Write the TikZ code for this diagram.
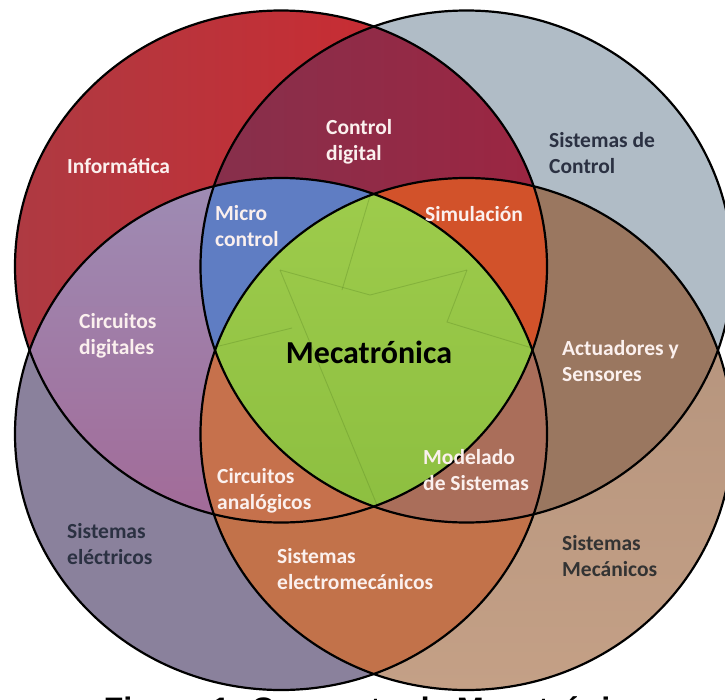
\documentclass[tikz,border=0pt]{standalone}
\usepackage{fontspec}
\setmainfont{Carlito}
\newfontfamily\piefont{Liberation Sans}
\usepackage{xcolor}
\usepackage{tikz}

\definecolor{rojoA}{HTML}{AE3A42}
\definecolor{rojoB}{HTML}{D4262C}
\definecolor{carmesiA}{HTML}{86304C}
\definecolor{carmesiB}{HTML}{A8203C}
\definecolor{grisazul}{HTML}{B0BCC6}
\definecolor{lilaA}{HTML}{9E8CB4}
\definecolor{lilaB}{HTML}{A45A8A}
\definecolor{grismorado}{HTML}{8A819C}
\definecolor{tanA}{HTML}{B0907A}
\definecolor{tanB}{HTML}{C4A086}
\definecolor{marron}{HTML}{9A7760}
\definecolor{naranja}{HTML}{C2724A}
\definecolor{azul}{HTML}{5F7DC3}
\definecolor{rojonaranja}{HTML}{D2522A}
\definecolor{salmon}{HTML}{C6714C}
\definecolor{cafe}{HTML}{AA6E5A}
\definecolor{verdeA}{HTML}{9ECC4C}
\definecolor{verdeB}{HTML}{84B83A}
\definecolor{verdeosc}{HTML}{5E8A26}
\definecolor{textoclaro}{HTML}{FBF0EE}
\definecolor{textooscuro}{HTML}{2B3142}

\begin{document}
\begin{tikzpicture}[
      x=1pt, y=-1pt,
      anillo/.style={x radius=266pt, y radius=256pt},
      borde/.style={draw=black, line width=2.2pt},
      etiqueta/.style={align=left, anchor=west, inner sep=0pt, text=textoclaro, font=\fontsize{21.5}{25.5}\selectfont\bfseries},
      oscura/.style={etiqueta, text=textooscuro},
      faceta/.style={draw=verdeosc, line width=0.9pt, opacity=0.35}
  ]
      \useasboundingbox (0,0) rectangle (725,699);
      \clip (0,0) rectangle (725,699);
      \fill[white] (0,0) rectangle (725,699);

      % Centros de los cuatro circulos
      \coordinate (inf) at (281,266.5);
      \coordinate (ctl) at (466.5,266.5);
      \coordinate (ele) at (281,434);
      \coordinate (mec) at (466.5,434);

      % Areas simples
      \shade[left color=rojoA, right color=rojoB] (inf) ellipse [anillo];
      \fill[grisazul] (ctl) ellipse [anillo];
      \fill[grismorado] (ele) ellipse [anillo];
      \shade[top color=tanA, bottom color=tanB] (mec) ellipse [anillo];

      % Areas dobles
      \begin{scope}
          \clip (inf) ellipse [anillo];
          \shade[left color=carmesiA, right color=carmesiB] (ctl) ellipse [anillo];
      \end{scope}
      \begin{scope}
          \clip (inf) ellipse [anillo];
          \shade[top color=lilaA, bottom color=lilaB] (ele) ellipse [anillo];
      \end{scope}
      \begin{scope}
          \clip (ctl) ellipse [anillo];
          \fill[marron] (mec) ellipse [anillo];
      \end{scope}
      \begin{scope}
          \clip (ele) ellipse [anillo];
          \fill[naranja] (mec) ellipse [anillo];
      \end{scope}

      % Areas triples
      \begin{scope}
          \clip (inf) ellipse [anillo];
          \clip (ctl) ellipse [anillo];
          \fill[azul] (ele) ellipse [anillo];
      \end{scope}
      \begin{scope}
          \clip (inf) ellipse [anillo];
          \clip (ctl) ellipse [anillo];
          \fill[rojonaranja] (mec) ellipse [anillo];
      \end{scope}
      \begin{scope}
          \clip (inf) ellipse [anillo];
          \clip (ele) ellipse [anillo];
          \fill[salmon] (mec) ellipse [anillo];
      \end{scope}
      \begin{scope}
          \clip (ctl) ellipse [anillo];
          \clip (ele) ellipse [anillo];
          \fill[cafe] (mec) ellipse [anillo];
      \end{scope}

      % Centro (Mecatronica)
      \begin{scope}
          \clip (inf) ellipse [anillo];
          \clip (ctl) ellipse [anillo];
          \clip (ele) ellipse [anillo];
          \shade[top color=verdeA, bottom color=verdeB] (mec) ellipse [anillo];
          \draw[faceta] (280,270) -- (370,295) -- (467,270);
          \draw[faceta] (370,196) -- (342,290);
          \draw[faceta] (280,270) -- (377,505);
          \draw[faceta] (467,270) -- (447,322) -- (532,348);
          \draw[faceta] (215,347) -- (292,328);
      \end{scope}

      % Contornos
      \foreach \c in {inf,ctl,ele,mec}
          \draw[borde] (\c) ellipse [anillo];

      % Textos
      \node[etiqueta] (tinf) at (67,166) {Informática};
      \node[etiqueta] (tdig) at (326,142) {Control\\digital};
      \node[oscura] (tctl) at (549,153) {Sistemas de\\Control};
      \node[etiqueta] (tmic) at (215,226) {Micro\\control};
      \node[etiqueta] (tsim) at (425,214) {Simulación};
      \node[etiqueta] (tcdi) at (79,336) {Circuitos\\digitales};
      \node[font=\fontsize{32}{36}\selectfont\bfseries, text=black, inner sep=0pt] (tmeca) at (369,352) {Mecatrónica};
      \node[etiqueta] (tact) at (562,361) {Actuadores y\\Sensores};
      \node[etiqueta] (tmod) at (423,470) {Modelado\\de Sistemas};
      \node[etiqueta] (tana) at (217,491) {Circuitos\\analógicos};
      \node[oscura] (tele) at (67,544) {Sistemas\\eléctricos};
      \node[etiqueta] (tem) at (277,569) {Sistemas\\electromecánicos};
      \node[oscura, text=black!80] (tmecs) at (562,556) {Sistemas\\Mecánicos};

      % Pie de figura (cortado)
      \node[anchor=base, inner sep=0pt, font=\piefont\fontsize{32.5}{36}\selectfont\bfseries] (pie) at (375,720) {Figura 1. Concepto de Mecatrónica};
  \end{tikzpicture}
\end{document}
